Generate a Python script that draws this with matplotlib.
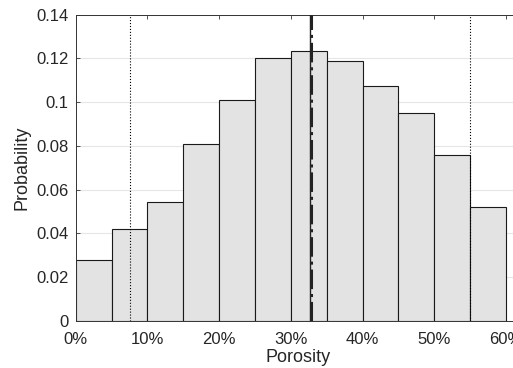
import numpy as np
import matplotlib
matplotlib.use("Agg")
import matplotlib.pyplot as plt
from matplotlib.ticker import FuncFormatter

plt.rcParams["font.family"] = ["Liberation Sans", "DejaVu Sans"]

# histogram of porosity (5 % bins)
bin_edges = [0.00, 0.05, 0.10, 0.15, 0.20, 0.25, 0.30, 0.35, 0.40, 0.45, 0.50, 0.55, 0.60]
probability = [0.0278, 0.042, 0.0542, 0.081, 0.101, 0.1204,
               0.1233, 0.1188, 0.1072, 0.0949, 0.0759, 0.0519]

# reference lines
lower_bound = 0.075
upper_bound = 0.55
mean_val = 0.327
median_val = 0.328

yticks = [0, 0.02, 0.04, 0.06, 0.08, 0.1, 0.12, 0.14]
ytick_labels = ["0", "0.02", "0.04", "0.06", "0.08", "0.1", "0.12", "0.14"]
xticks = [0.0, 0.1, 0.2, 0.3, 0.4, 0.5, 0.6]

fig = plt.figure(figsize=(5.13, 3.68), dpi=100)
ax = fig.add_axes([0.1476, 0.1277, 0.8667, 0.8323])

edges = np.array(bin_edges)
ax.bar(edges[:-1], probability, width=np.diff(edges), align="edge",
       color="#e3e3e3", edgecolor="#1a1a1a", linewidth=0.8, zorder=2)

ax.axvline(lower_bound, color="black", linestyle=":", linewidth=0.8, zorder=3)
ax.axvline(upper_bound, color="black", linestyle=":", linewidth=0.8, zorder=3)
ax.axvline(mean_val, color="#222222", linestyle="-", linewidth=1.0, zorder=3)
ax.axvline(median_val, color="#222222", linestyle="-.", linewidth=2.2, zorder=4)

ax.set_xlim(0, 0.62)
ax.set_ylim(0, 0.14)
ax.set_xticks(xticks)
ax.xaxis.set_major_formatter(FuncFormatter(lambda v, p: f"{v*100:.0f}%"))
ax.set_yticks(yticks)
ax.set_yticklabels(ytick_labels)

ax.grid(axis="y", color="#e6e6e6", linewidth=0.8, zorder=0)
ax.set_axisbelow(True)
ax.tick_params(direction="in", length=3, width=0.6, color="#333333",
               labelsize=12, labelcolor="#262626", top=True, right=False)
ax.tick_params(axis="x", pad=8)
ax.tick_params(axis="y", pad=5)
for side in ["left", "bottom", "top"]:
    ax.spines[side].set_color("#333333")
    ax.spines[side].set_linewidth(0.7)
ax.spines["right"].set_visible(False)

ax.set_xlabel("Porosity", fontsize=13, color="#262626", labelpad=1)
ax.set_ylabel("Probability", fontsize=13, color="#262626", labelpad=4)

fig.savefig("out.png", dpi=100)
